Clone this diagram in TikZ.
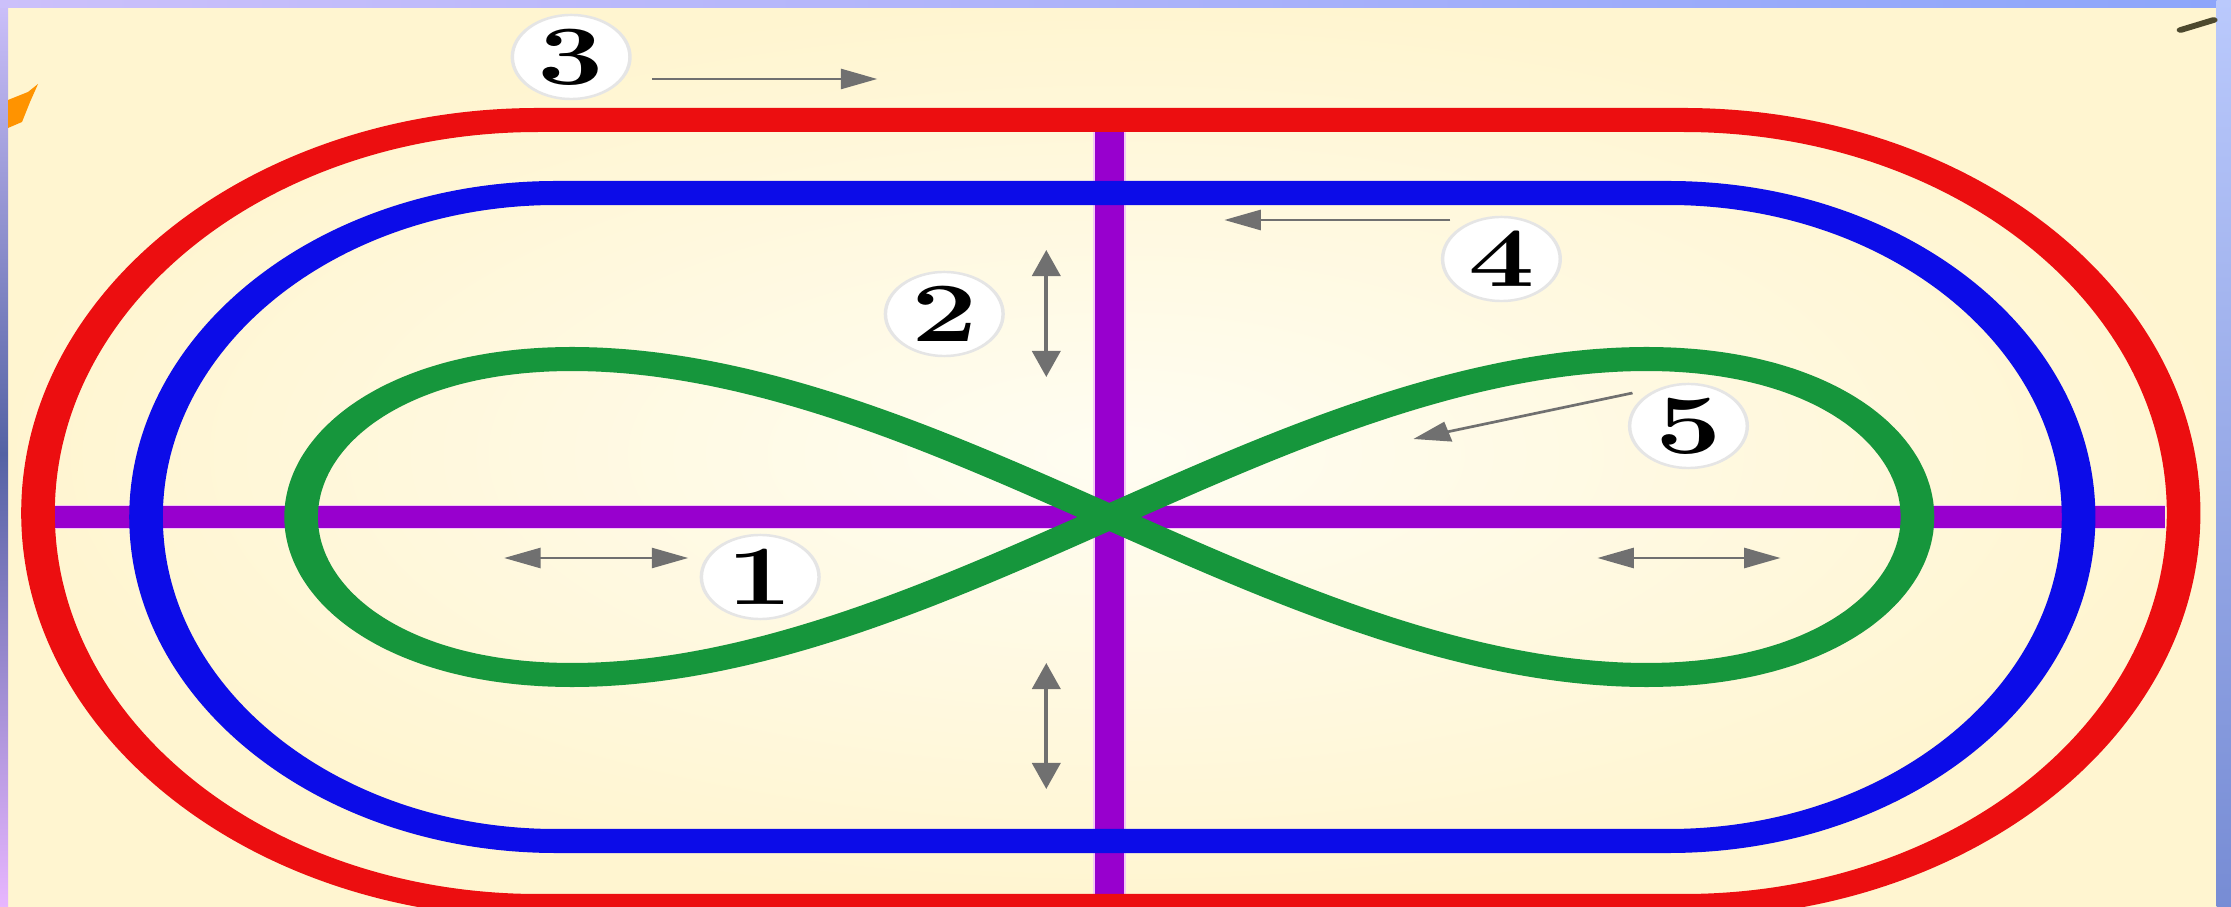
\documentclass[tikz,border=0pt]{standalone}
\usepackage{graphicx}
\usepackage{tikz}
\usetikzlibrary{arrows.meta}
\definecolor{trackred}{RGB}{236,14,16}
\definecolor{trackblue}{RGB}{12,12,232}
\definecolor{loopgreen}{RGB}{22,150,60}
\definecolor{axispurple}{RGB}{152,0,206}
\definecolor{axispink}{RGB}{244,200,244}
\definecolor{pointgray}{RGB}{112,112,112}
\definecolor{paper}{RGB}{255,245,208}
\definecolor{paperlight}{RGB}{255,253,242}
\definecolor{rimlav}{RGB}{204,192,250}
\definecolor{rimslate}{RGB}{84,98,164}
\definecolor{rimpink}{RGB}{232,182,255}
\definecolor{rimblue}{RGB}{140,165,250}

\begin{document}
\begin{tikzpicture}[x=0.01cm, y=-0.01cm, >={Triangle[length=2.6mm, width=2mm]}]
  \useasboundingbox (0,0) rectangle (2231,907);
  \begin{scope}[x=0.0071429cm, transform canvas={xscale=1.4},
      track/.style={line width=0.24cm, line join=round},
      axis/.style={draw=axispurple, line width=0.21cm, preaction={draw=axispink, line width=0.24cm}},
      pointer/.style={draw=pointgray, line width=0.75pt},
      numlabel/.style={circle, fill=white, draw=black!10, line width=0.7pt,
        minimum size=0.84cm, inner sep=0pt, font=\fontsize{24}{24}\selectfont\bfseries}]
    % paper and screen rim
    \fill[paper] (0,0) rectangle (2231,907);
    \shade[inner color=paperlight, outer color=paper] (0,0) rectangle (2231,907);
    \shade[top color=rimlav, bottom color=rimpink, middle color=rimslate] (0,0) rectangle (8,907);
    \shade[left color=rimlav, right color=rimblue] (0,0) rectangle (2231,8);
    \shade[top color=rimblue!60!white, bottom color=rimblue!85!black] (2216,0) rectangle (2231,907);
    \fill[orange!85!yellow] (8,100) -- (28,92) -- (38,84) -- (30,102) -- (22,122) -- (8,128) -- cycle;
    \draw[line width=1.6pt, line cap=round, black!60!olive] (2180,30) -- (2213,20);

    % axes
    \draw[axis] (54,517) -- (2164,517);
    \draw[axis] (1109,119) -- (1109,907);

    % tracks
    \draw[track, trackblue] (1668,193) -- (556,193)
      arc[start angle=270, end angle=90, x radius=410, y radius=324] -- (1668,841)
      arc[start angle=90, end angle=-90, x radius=410, y radius=324] -- cycle;
    \draw[track, trackred] (1683,120) -- (538,120)
      arc[start angle=270, end angle=90, x radius=500, y radius=393] -- (1683,906)
      arc[start angle=90, end angle=-90, x radius=500, y radius=393] -- cycle;
    \draw[track, loopgreen] plot[domain=90:450, samples=145, smooth]
      ({1109+808*sin(\x)*(1-0.12*cos(\x)*cos(\x))}, {517+158*sin(2*\x)}) -- cycle;

    % numbers
    \node[numlabel] (n1) at (760,577) {1};
    \node[numlabel] (n2) at (944,314) {2};
    \node[numlabel] (n3) at (571,57) {3};
    \node[numlabel] (n4) at (1501,259) {4};
    \node[numlabel] (n5) at (1688,426) {5};

    % pointers
    \path (652,79) coordinate (t3) (877,79) coordinate (h3)
          (1450,220) coordinate (t4) (1224,220) coordinate (h4)
          (1046,250) coordinate (u2) (1046,377) coordinate (d2)
          (1632,393) coordinate (t5) (1413,439) coordinate (h5)
          (504,558) coordinate (l1) (688,558) coordinate (r1)
          (1597,558) coordinate (l6) (1780,558) coordinate (r6)
          (1046,663) coordinate (u7) (1046,789) coordinate (d7);
    \draw[pointer, ->] (t3) -- (h3);
    \draw[pointer, ->] (t4) -- (h4);
    \draw[pointer, ->] (t5) -- (h5);
    \draw[pointer, <->] (u2) -- (d2);
    \draw[pointer, <->] (l1) -- (r1);
    \draw[pointer, <->] (l6) -- (r6);
    \draw[pointer, <->] (u7) -- (d7);
  \end{scope}
\end{tikzpicture}
\end{document}
